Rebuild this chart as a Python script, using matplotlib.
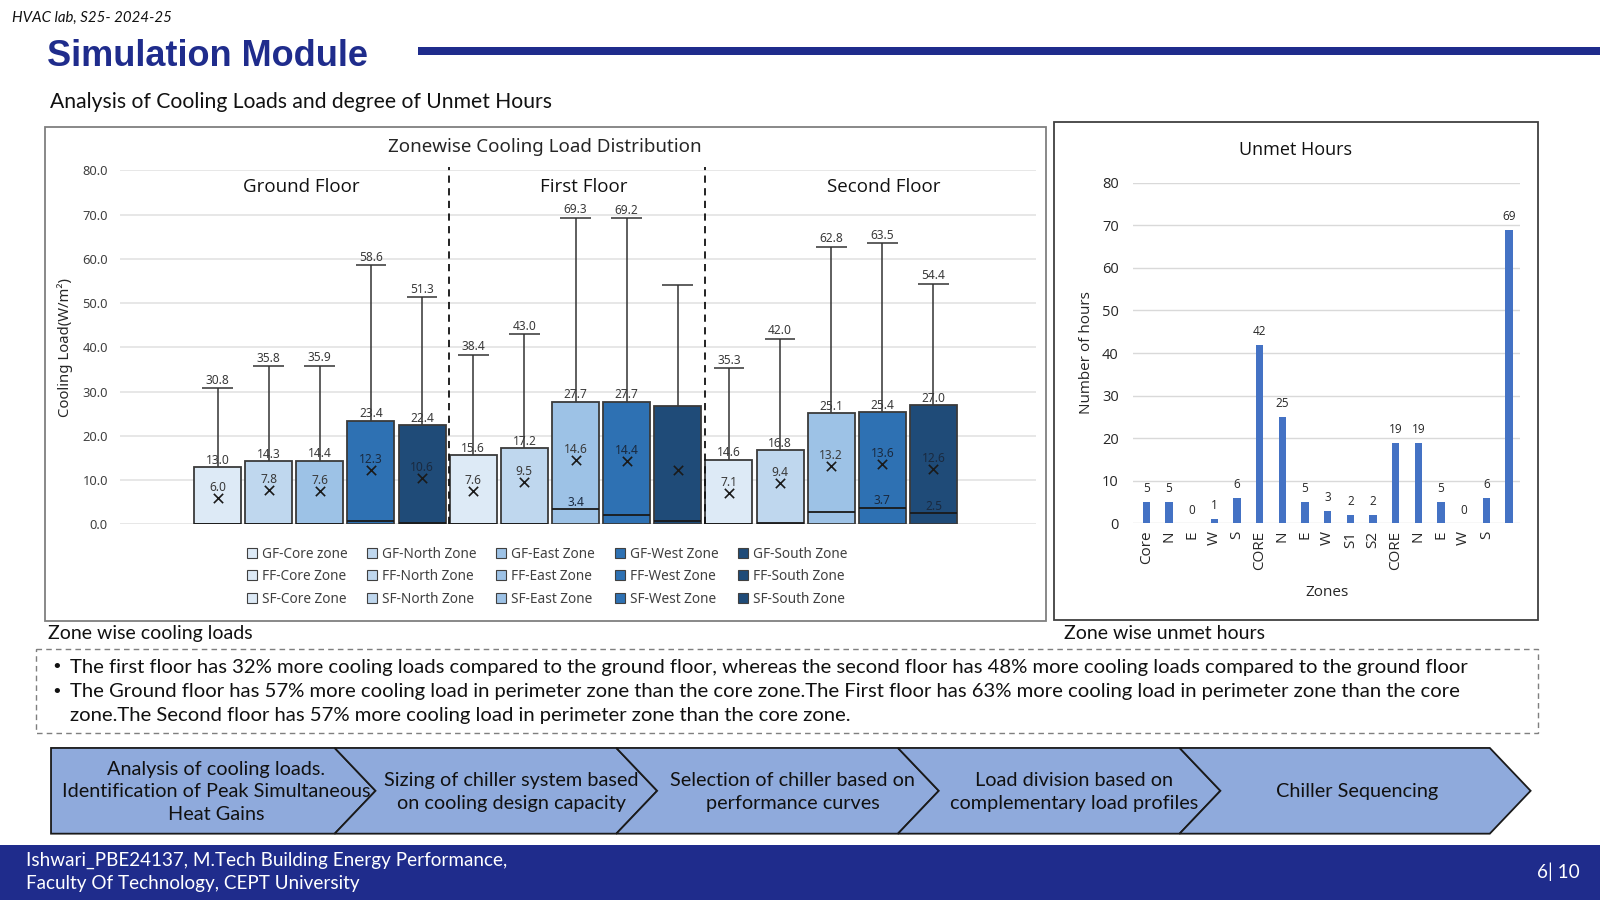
import matplotlib
matplotlib.use("Agg")
import matplotlib.pyplot as plt
from matplotlib.patches import Polygon, Rectangle, Patch

# ---------------- data ----------------
floors = ["Ground Floor", "First Floor", "Second Floor"]
floor_codes = ["GF", "FF", "SF"]
zones = ["Core", "North", "East", "West", "South"]
zone_colors = ["#DDEAF6", "#BFD7EE", "#9DC2E6", "#2E71B3", "#1F4B78"]

box_top = [13.0, 14.3, 14.4, 23.4, 22.4,
           15.6, 17.2, 27.7, 27.7, 26.8,
           14.6, 16.8, 25.1, 25.4, 27.0]
box_mean = [6.0, 7.8, 7.6, 12.3, 10.6,
            7.6, 9.5, 14.6, 14.4, 12.2,
            7.1, 9.4, 13.2, 13.6, 12.6]
box_max = [30.8, 35.8, 35.9, 58.6, 51.3,
           38.4, 43.0, 69.3, 69.2, 54.2,
           35.3, 42.0, 62.8, 63.5, 54.4]
box_inner = [0.0, 0.0, 0.0, 0.7, 0.3,
             0.0, 0.0, 3.4, 2.2, 0.7,
             0.0, 0.3, 2.8, 3.7, 2.5]
show_labels = [True] * 9 + [False] + [True] * 5
inner_label_shown = [False] * 7 + [True] + [False] * 5 + [True, True]

unmet_zones = ["Core", "N", "E", "W", "S", "CORE", "N", "E", "W", "S1", "S2",
               "CORE", "N", "E", "W", "S", ""]
unmet_hours = [5, 5, 0, 1, 6, 42, 25, 5, 3, 2, 2, 19, 19, 5, 0, 6, 69]

bullets = [
    "The first floor has 32% more cooling loads compared to the ground floor, whereas the second floor has 48% more cooling loads compared to the ground floor",
    "The Ground floor has 57% more cooling load in perimeter zone than the core zone.The First floor has 63% more cooling load in perimeter zone than the core",
    "zone.The Second floor has 57% more cooling load in perimeter zone than the core zone.",
]
steps = [
    "Analysis of cooling loads.\nIdentification of Peak Simultaneous\nHeat Gains",
    "Sizing of chiller system based\non cooling design capacity",
    "Selection of chiller based on\nperformance curves",
    "Load division based on\ncomplementary load profiles",
    "Chiller Sequencing",
]

# ---------------- figure ----------------
W, H = 1568.0, 882.0
NAVY = "#1F2C8C"
BODY = "Lato"

fig = plt.figure(figsize=(16, 9), dpi=100)
bg = fig.add_axes([0, 0, 1, 1])
bg.set_xlim(0, W)
bg.set_ylim(H, 0)
bg.axis("off")
bg.set_zorder(0)

def axrect(l, t, r, b):
    return [l / W, 1 - b / H, (r - l) / W, (b - t) / H]

# header
bg.text(12, 18, "HVAC lab, S25- 2024-25", fontsize=10.8, style="italic",
        family=BODY, va="center", ha="left", color="#111111")
bg.text(46, 55, "Simulation Module", fontsize=26, weight="bold",
        family="Liberation Sans", va="center", ha="left", color=NAVY)
bg.add_patch(Rectangle((410, 46.5), W - 410, 7, color=NAVY, lw=0))
bg.text(49, 100, "Analysis of Cooling Loads and degree of Unmet Hours", fontsize=15.2,
        family=BODY, va="center", ha="left", color="#111111")

# panels
bg.add_patch(Rectangle((44, 124), 1025 - 44, 609 - 124, fill=False, ec="#7F7F7F", lw=1.3))
bg.add_patch(Rectangle((1033, 120), 1507 - 1033, 608 - 120, fill=False, ec="#404040", lw=1.3))
bg.text(534, 144, "Zonewise Cooling Load Distribution", fontsize=13.5, family="Noto Sans",
        ha="center", va="center", color="#262626")
bg.text(1270, 147, "Unmet Hours", fontsize=13, family="Open Sans",
        ha="center", va="center", color="#111111")

bg.text(47, 621, "Zone wise cooling loads", fontsize=14, family=BODY,
        ha="left", va="center", color="#111111")
bg.text(1043, 621, "Zone wise unmet hours", fontsize=14, family=BODY,
        ha="left", va="center", color="#111111")

# dashed text box
bg.add_patch(Rectangle((35, 636), 1507 - 35, 718 - 636, fill=False, ec="#7F7F7F",
                       lw=1.0, ls=(0, (4, 3))))
for i, (yy, line) in enumerate(zip([654, 678, 701], bullets)):
    if i < 2:
        bg.text(50, yy, "\u2022", fontsize=13, family="DejaVu Sans", ha="left",
                va="center", color="#111111")
    bg.text(69, yy, line, fontsize=14.6, family=BODY, ha="left", va="center",
            color="#111111")

# chevrons
top, bot, mid = 733, 817, 775
d = 40
lefts = [50, 328, 604, 880, 1156]
rights = [328, 604, 880, 1156, 1460]
text_shift = [0, 35, 35, 35, 22]
for i, (L, R) in enumerate(zip(lefts, rights)):
    if i == 0:
        pts = [(L, top), (R, top), (R + d, mid), (R, bot), (L, bot)]
        cx = (L + R + d) / 2 + 3
    else:
        pts = [(L, top), (R, top), (R + d, mid), (R, bot), (L, bot), (L + d, mid)]
        cx = (L + R) / 2 + text_shift[i]
    bg.add_patch(Polygon(pts, closed=True, fc="#8FAADC", ec="#1A1A1A", lw=1.3))
    bg.text(cx, mid + 1, steps[i], fontsize=14.3, family=BODY, ha="center", va="center",
            color="#111111", linespacing=1.4)

# footer
bg.add_patch(Rectangle((0, 828), W, H - 828, color=NAVY, lw=0))
bg.text(25, 843, "Ishwari_PBE24137, M.Tech Building Energy Performance,", fontsize=13.6,
        family=BODY, ha="left", va="center", color="white")
bg.text(25, 866, "Faculty Of Technology, CEPT University", fontsize=13.6,
        family=BODY, ha="left", va="center", color="white")
bg.text(1527, 854, "6| 10", fontsize=13.6, family=BODY, ha="center", va="center",
        color="white")

# ---------------- cooling load chart ----------------
ax = fig.add_axes(axrect(118, 167, 1015, 514))
ax.set_zorder(2)
ax.patch.set_alpha(0)
n = len(box_top)
xs = list(range(n))
colors = [zone_colors[i % 5] for i in range(n)]
ax.set_xlim(-1.9, 16.0)
ax.set_ylim(0, 80)
ax.set_yticks(range(0, 81, 10))
ax.set_yticklabels([f"{v:.1f}" for v in range(0, 81, 10)], fontsize=9.3,
                   color="#404040", family="Noto Sans")
ax.tick_params(axis="y", length=0, pad=9)
ax.set_xticks([])
for s in ax.spines.values():
    s.set_visible(False)
ax.grid(axis="y", color="#E3E3E3", lw=1.2)
ax.set_axisbelow(True)
ax.set_ylabel("Cooling Load(W/m\u00b2)", fontsize=10.7, family="Noto Sans",
              color="#262626", labelpad=7)

bw = 0.92
cap = 0.30
ax.vlines(xs, box_top, box_max, color="#333333", lw=1.1, zorder=2)
ax.hlines(box_max, [x - cap for x in xs], [x + cap for x in xs], color="#333333",
          lw=1.1, zorder=2)
ax.bar(xs, box_top, width=bw, color=colors, edgecolor="#3A3A3A", lw=1.3, zorder=3)
ax.hlines(box_inner, [x - bw / 2 for x in xs], [x + bw / 2 for x in xs],
          color="#1A1A1A", lw=1.3, zorder=4)
ax.scatter(xs, box_mean, marker="x", s=45, color="#1A1A1A", lw=1.2, zorder=5)

lab_kw = dict(fontsize=8.6, family="Noto Sans", color="#3A3A3A", ha="center",
              va="bottom", zorder=6)
for i in xs:
    if not show_labels[i]:
        continue
    ax.text(i, box_top[i] + 0.1, f"{box_top[i]:.1f}", **lab_kw)
    ax.text(i, box_mean[i] + 0.9, f"{box_mean[i]:.1f}",
            **{**lab_kw, "color": "#1A2A40" if i % 5 >= 3 else "#3A3A3A"})
    ax.text(i, box_max[i] + 0.3, f"{box_max[i]:.1f}", **lab_kw)
    if inner_label_shown[i]:
        ax.text(i, box_inner[i] + 0.2, f"{box_inner[i]:.1f}",
                **{**lab_kw, "color": "#1A2A40"})

for xv in [4.53, 9.54]:
    ax.axvline(xv, ymin=0, ymax=1.01, color="#111111", lw=1.3, ls=(0, (4, 3)),
               clip_on=False, zorder=4)
for fl, fx in zip(floors, [1.64, 7.17, 13.03]):
    ax.text(fx, 76.3, fl, fontsize=13.5, family="Open Sans", ha="center",
            va="center", color="#111111")

handles, labels = [], []
for z, c in zip(zones, zone_colors):
    for fc in floor_codes:
        handles.append(Patch(facecolor=c, edgecolor="#404040", lw=0.8))
        zone_word = "zone" if (fc == "GF" and z == "Core") else "Zone"
        labels.append(f"{fc}-{z} {zone_word}")
leg = fig.legend(handles, labels, ncol=5, loc="center",
                 bbox_to_anchor=(536 / W, 1 - 565 / H), frameon=False,
                 handlelength=0.75, handleheight=0.75,
                 handletextpad=0.35, columnspacing=1.45, labelspacing=0.55,
                 prop={"family": "Noto Sans", "size": 9.8})
for t in leg.get_texts():
    t.set_color("#404040")

# ---------------- unmet hours chart ----------------
ax2 = fig.add_axes(axrect(1110, 179, 1490, 513))
ax2.set_zorder(2)
ax2.patch.set_alpha(0)
ux = list(range(len(unmet_hours)))
ax2.bar(ux, unmet_hours, width=0.32, color="#4472C4", zorder=3)
ax2.set_xlim(-0.6, 16.5)
ax2.set_ylim(0, 80)
ax2.set_yticks(range(0, 81, 10))
ax2.tick_params(axis="y", length=0, pad=10, labelsize=10.5, labelcolor="#262626")
ax2.set_xticks(ux)
ax2.set_xticklabels(unmet_zones, rotation=90, fontsize=11, family="Open Sans",
                    color="#262626")
ax2.tick_params(axis="x", length=0, pad=5)
for lab in ax2.get_yticklabels():
    lab.set_family("Open Sans")
for s in ax2.spines.values():
    s.set_visible(False)
ax2.grid(axis="y", color="#D9D9D9", lw=1.0)
ax2.set_axisbelow(True)
for x, v in zip(ux, unmet_hours):
    ax2.text(x, v + 1.6, f"{v}", fontsize=8.5, family="Open Sans", color="#262626",
             ha="center", va="bottom")
ax2.set_ylabel("Number of hours", fontsize=11, family="Open Sans", color="#262626",
               labelpad=6)
ax2.set_xlabel("Zones", fontsize=11, family="Open Sans", color="#262626", labelpad=11)

fig.savefig("out.png", dpi=100)
